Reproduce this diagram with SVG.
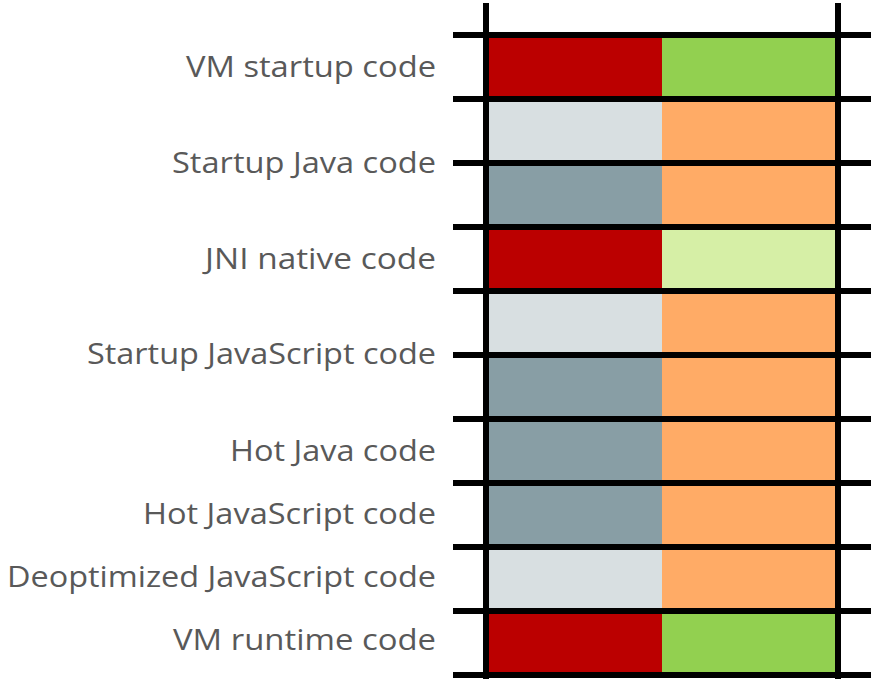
<svg xmlns="http://www.w3.org/2000/svg" width="871" height="679" viewBox="0 0 871 679">
<style>
.lbl{font-family:"Open Sans","Noto Sans","Liberation Sans",sans-serif;font-size:30px;fill:#595959;text-anchor:end}
.red{fill:#BB0000}.grn{fill:#92D050}.lgr{fill:#D6EFA6}.lgy{fill:#D8DFE1}.gy{fill:#889EA5}.or{fill:#FFAB66}
.ln{stroke:#000;stroke-width:6;fill:none}
</style>
<rect width="871" height="679" fill="#fff"/>
<g id="cells">
<rect class="red" x="486" y="35" width="176" height="64"/><rect class="grn" x="662" y="35" width="176" height="64"/>
<rect class="lgy" x="486" y="99" width="176" height="64"/><rect class="or" x="662" y="99" width="176" height="64"/>
<rect class="gy" x="486" y="163" width="176" height="64"/><rect class="or" x="662" y="163" width="176" height="64"/>
<rect class="red" x="486" y="227" width="176" height="64"/><rect class="lgr" x="662" y="227" width="176" height="64"/>
<rect class="lgy" x="486" y="291" width="176" height="64"/><rect class="or" x="662" y="291" width="176" height="64"/>
<rect class="gy" x="486" y="355" width="176" height="64"/><rect class="or" x="662" y="355" width="176" height="64"/>
<rect class="gy" x="486" y="419" width="176" height="64"/><rect class="or" x="662" y="419" width="176" height="64"/>
<rect class="gy" x="486" y="483" width="176" height="64"/><rect class="or" x="662" y="483" width="176" height="64"/>
<rect class="lgy" x="486" y="547" width="176" height="64"/><rect class="or" x="662" y="547" width="176" height="64"/>
<rect class="red" x="486" y="611" width="176" height="64"/><rect class="grn" x="662" y="611" width="176" height="64"/>
</g>
<g id="grid">
<path class="ln" d="M453 35H871M453 99H871M453 163H871M453 227H871M453 291H871M453 355H871M453 419H871M453 483H871M453 547H871M453 611H871M453 675H871"/>
<path class="ln" d="M486 3V679M838 3V679"/>
</g>
<g id="labels">
<text id="l1" class="lbl" x="436" y="77" textLength="250" lengthAdjust="spacingAndGlyphs">VM startup code</text>
<text id="l2" class="lbl" x="436" y="173" textLength="264" lengthAdjust="spacingAndGlyphs">Startup Java code</text>
<text id="l3" class="lbl" x="436" y="269" textLength="231" lengthAdjust="spacingAndGlyphs">JNI native code</text>
<text id="l4" class="lbl" x="436" y="364" textLength="349" lengthAdjust="spacingAndGlyphs">Startup JavaScript code</text>
<text id="l5" class="lbl" x="436" y="461" textLength="206" lengthAdjust="spacingAndGlyphs">Hot Java code</text>
<text id="l6" class="lbl" x="436" y="524" textLength="293" lengthAdjust="spacingAndGlyphs">Hot JavaScript code</text>
<text id="l7" class="lbl" x="436" y="587" textLength="429" lengthAdjust="spacingAndGlyphs">Deoptimized JavaScript code</text>
<text id="l8" class="lbl" x="436" y="650" textLength="263" lengthAdjust="spacingAndGlyphs">VM runtime code</text>
</g>
</svg>
